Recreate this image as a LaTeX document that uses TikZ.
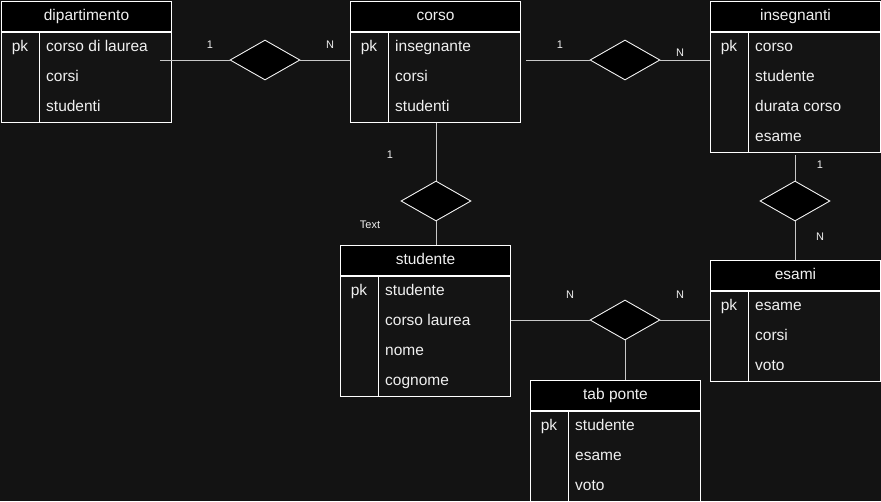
\documentclass[tikz,border=0pt]{standalone}
\usepackage{fontspec}
\setmainfont{Liberation Sans}
\usetikzlibrary{positioning, shapes.geometric, calc}
\definecolor{canvasdark}{HTML}{131313}
\definecolor{bodydark}{HTML}{141414}
\definecolor{linkgrey}{HTML}{C8C8C8}
\definecolor{textwhite}{HTML}{F0F0F0}

% one entity table: name, corner, title, fields, number of rows
\newcommand{\ertable}[5]{%
  \node[tabhead] (#1) at (#2) {#3};
  \node[tabbody, minimum height=#5*30pt] (#1-body) at (#1.south west) {};
  \draw[tabline] ($(#1-body.north west)+(38,0)$) -- ($(#1-body.south west)+(38,0)$);
  \node[tabtext, anchor=center] (#1-pk) at ($(#1-body.north west)+(19,15)$) {pk};
  \foreach \fld [count=\k] in {#4} {
    \node[tabtext] (#1-\k) at ($(#1-body.north west)+(45,{30*\k-15})$) {\fld};
  }%
}

\begin{document}
\begin{tikzpicture}[
    x=1pt, y=-1pt,
    tabhead/.style={draw=white, fill=black, text=textwhite, line width=1pt, anchor=north west, inner sep=0pt,
      minimum width=170pt, minimum height=30pt, text height=11.5pt, text depth=3pt, font=\fontsize{15.5}{18}\selectfont},
    tabbody/.style={draw=white, fill=bodydark, line width=1pt, anchor=north west, inner sep=0pt, minimum width=170pt},
    tabline/.style={draw=white, line width=1pt},
    tabtext/.style={text=textwhite, inner sep=0pt, anchor=west, text height=11.5pt, text depth=3pt,
      font=\fontsize{15.5}{18}\selectfont},
    relation/.style={diamond, draw=textwhite, fill=black, line width=0.9pt, inner sep=0pt, minimum width=70pt, minimum height=40pt},
    link/.style={draw=linkgrey, line width=1pt},
    card/.style={text=textwhite, inner sep=0pt, font=\fontsize{11}{13}\selectfont},
]
    \fill[canvasdark] (0,0) rectangle (881,501);
    \useasboundingbox (0,0) rectangle (881,501);

    % Tables
    \ertable{dipartimento}{1,1}{dipartimento}{corso di laurea, corsi, studenti}{3}
    \ertable{corso}{350,1}{corso}{insegnante, corsi, studenti}{3}
    \ertable{insegnanti}{710,1}{insegnanti}{corso, studente, durata corso, esame}{4}
    \ertable{studente}{340,245}{studente}{studente, corso laurea, nome, cognome}{4}
    \ertable{esami}{710,260}{esami}{esame, corsi, voto}{3}
    \ertable{tabponte}{530,380}{tab ponte}{studente, esame, voto}{3}

    % Relations
    \node[relation] (dipcorso) at (265,60) {};
    \node[relation] (corsoins) at (625,60) {};
    \node[relation] (corsostud) at (436,201) {};
    \node[relation] (insesami) at (795,201) {};
    \node[relation] (studesami) at (625,320) {};

    \coordinate (dipout) at (160,60);
    \coordinate (corsoout) at (526,60);
    \coordinate (insout) at (795,155);

    % Links
    \draw[link] (dipout) -- (dipcorso.west);
    \draw[link] (dipcorso.east) -- (dipcorso -| corso.west);
    \draw[link] (corsoout) -- (corsoins.west);
    \draw[link] (corsoins.east) -- (corsoins -| insegnanti.west);
    \draw[link] (corsostud.north) -- (corsostud |- corso-body.south);
    \draw[link] (corsostud.south) -- (corsostud |- studente.north);
    \draw[link] (insout) -- (insesami.north);
    \draw[link] (insesami.south) -- (insesami |- esami.north);
    \draw[link] (studesami -| studente-body.east) -- (studesami.west);
    \draw[link] (studesami.east) -- (studesami -| esami.west);
    \draw[link] (studesami.south) -- (studesami |- tabponte.north);

    % Cardinalities
    \node[card] (c1) at (210,45) {1};
    \node[card] (c2) at (330,45) {N};
    \node[card] (c3) at (560,45) {1};
    \node[card] (c4) at (680,53) {N};
    \node[card] (c5) at (390,155) {1};
    \node[card] (c6) at (370,225) {Text};
    \node[card] (c7) at (820,165) {1};
    \node[card] (c8) at (820,237) {N};
    \node[card] (c9) at (570,295) {N};
    \node[card] (c10) at (680,295) {N};
\end{tikzpicture}
\end{document}
